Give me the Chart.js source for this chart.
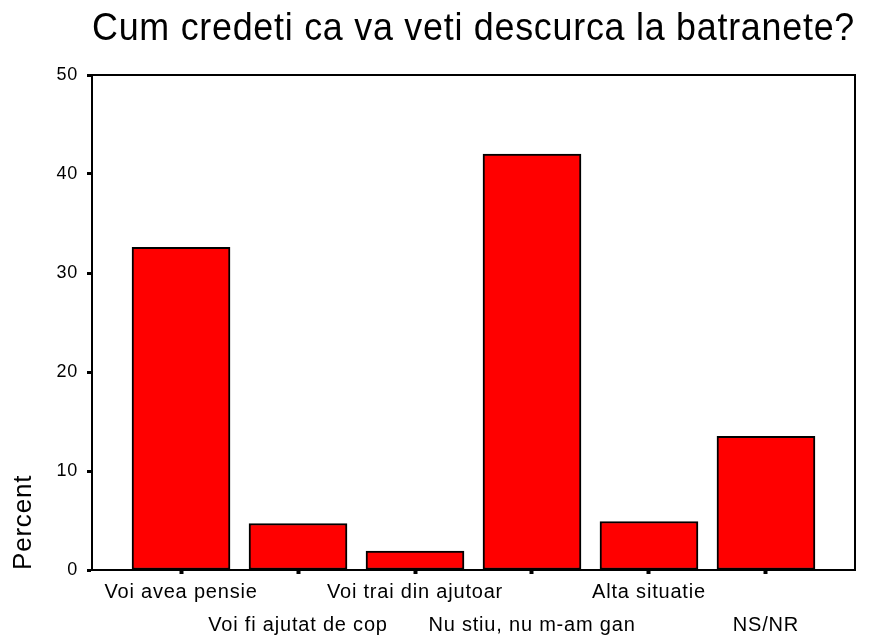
<!DOCTYPE html>
<html>
<head>
<meta charset="utf-8">
<title>Cum credeti ca va veti descurca la batranete?</title>
<script src="https://cdn.jsdelivr.net/npm/chart.js@4/dist/chart.umd.min.js"></script>
<style>
    body { margin: 0; background: #fff; }
    #wrap { width: 876px; height: 636px; }
</style>
</head>
<body>
<div id="wrap"><canvas id="chart" width="876" height="636"></canvas></div>
<script>
const categories = [
    'Voi avea pensie',
    'Voi fi ajutat de cop',
    'Voi trai din ajutoar',
    'Nu stiu, nu m-am gan',
    'Alta situatie',
    'NS/NR'
];
const percentValues = [32.6, 4.7, 1.9, 42.0, 4.9, 13.5];
const yTicks = [0, 10, 20, 30, 40, 50];

const fontFamily = "'Liberation Sans', Arial, Helvetica, sans-serif";

// box round the plot area (top and right edges) + wider letter spacing like the original
const frame = {
    id: 'frame',
    beforeUpdate(chart) {
        chart.ctx.letterSpacing = '0.8px';
    },
    beforeDraw(chart) {
        chart.ctx.letterSpacing = '0.8px';
    },
    afterDatasetsDraw(chart) {
        const a = chart.chartArea;
        const ctx = chart.ctx;
        ctx.save();
        ctx.strokeStyle = '#000';
        ctx.lineWidth = 2;
        ctx.strokeRect(a.left, a.top, a.right - a.left, a.bottom - a.top);
        ctx.restore();
    }
};

document.addEventListener('DOMContentLoaded', function() {
    const ctx = document.getElementById('chart').getContext('2d');
    new Chart(ctx, {
        type: 'bar',
        data: {
            datasets: [{
                label: 'Percent',
                data: percentValues.map((v, i) => ({ x: i, y: v })),
                backgroundColor: '#ff0000',
                borderColor: '#000000',
                borderWidth: 2,
                borderSkipped: false,
                barThickness: 98
            }]
        },
        options: {
            responsive: false,
            animation: false,
            layout: { padding: { left: 0, right: 21, top: 0, bottom: 0 } },
            plugins: {
                legend: { display: false },
                tooltip: { enabled: false },
                title: {
                    display: true,
                    text: 'Cum credeti ca va veti descurca la batranete?',
                    color: '#000',
                    fullSize: false,
                    font: { family: fontFamily, size: 38, weight: 'normal' },
                    padding: { top: 7, bottom: 22.4 }
                }
            },
            scales: {
                x: {
                    type: 'linear',
                    offset: false,
                    min: -0.761,
                    max: 5.761,
                    afterBuildTicks: function(scale) {
                        scale.ticks = categories.map((c, i) => ({ value: i }));
                    },
                    afterFit: function(scale) {
                        scale.height = 66;
                    },
                    grid: {
                        offset: false,
                        drawOnChartArea: false,
                        tickLength: 4,
                        tickWidth: 4,
                        tickColor: '#000'
                    },
                    border: { display: true, color: '#000', width: 2 },
                    ticks: {
                        autoSkip: false,
                        maxRotation: 0,
                        minRotation: 0,
                        padding: 2,
                        color: '#000',
                        font: { family: fontFamily, size: 20, lineHeight: 1.65 },
                        callback: function(value) {
                            const i = Math.round(value);
                            return i % 2 === 0 ? categories[i] : ['', categories[i]];
                        }
                    }
                },
                y: {
                    min: 0,
                    max: 50,
                    afterBuildTicks: function(scale) {
                        scale.ticks = yTicks.map(v => ({ value: v }));
                    },
                    afterFit: function(scale) {
                        scale.width = 92;
                    },
                    grid: {
                        drawOnChartArea: false,
                        tickLength: 5,
                        tickWidth: 3,
                        tickColor: '#000'
                    },
                    border: { display: true, color: '#000', width: 2 },
                    ticks: {
                        padding: 9,
                        color: '#000',
                        font: { family: fontFamily, size: 18 }
                    },
                    title: {
                        display: true,
                        text: 'Percent',
                        align: 'start',
                        color: '#000',
                        font: { family: fontFamily, size: 26 },
                        padding: { top: 8, bottom: 0 }
                    }
                }
            }
        },
        plugins: [frame]
    });
});
</script>
</body>
</html>
